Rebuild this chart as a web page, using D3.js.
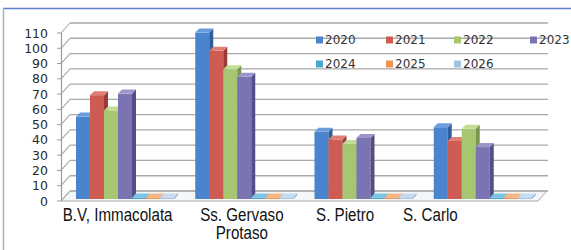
<!DOCTYPE html>
<html>
<head>
<meta charset="utf-8">
<script src="https://cdn.jsdelivr.net/npm/d3@7"></script>
<style>
  html, body { margin: 0; padding: 0; background: #fff; }
  svg { display: block; }
</style>
</head>
<body>
<svg id="chart" width="571" height="250"></svg>
<script>
// data
const categories = ['B.V, Immacolata', 'Ss. Gervaso Protaso', 'S. Pietro', 'S. Carlo'];
const years = ['2020', '2021', '2022', '2023', '2024', '2025', '2026'];
const v2020 = [54, 109, 44, 47];
const v2021 = [68, 97, 39, 38];
const v2022 = [58, 85, 36, 46];
const v2023 = [69, 80, 40, 34];
const v2024 = [0, 0, 0, 0];
const v2025 = [0, 0, 0, 0];
const v2026 = [0, 0, 0, 0];
const yTickValues = [0, 10, 20, 30, 40, 50, 60, 70, 80, 90, 100, 110];

const seriesValues = [v2020, v2021, v2022, v2023, v2024, v2025, v2026];

// styles
const fronts = ['#4a84cc', '#cf5c52', '#a6c672', '#7b74b3', '#4aa8d0', '#ef9550', '#a5c2e6'];
const sides  = ['#2f5e9c', '#9a3b35', '#7a9550', '#544e86', '#2f7f9f', '#b86a30', '#7d9cc0'];
const tops   = ['#6a9de0', '#e07f76', '#c3dc96', '#9b95cc', '#7cc4e2', '#f6b585', '#c6dbf2'];

// layout
const wallDx = 9, wallDy = -10;   // back wall depth
const barDx = 4, barDy = -4;      // bar depth
const barLift = 2;
const labelShift = [-3, 2, -14, -48];
const legendCols = [316, 386, 454, 530];
const legendRows = [40, 64];

const svg = d3.select('#chart');

// frame
svg.append('line').attr('x1', 3).attr('x2', 571).attr('y1', 8.5).attr('y2', 8.5)
    .attr('stroke', '#5b80c8').attr('stroke-width', 1.5);
svg.append('line').attr('x1', 3.5).attr('x2', 3.5).attr('y1', 8).attr('y2', 250)
    .attr('stroke', '#9fb3cc').attr('stroke-width', 1.5);

const y = d3.scaleLinear().domain([0, 110]).range([201, 33]);
const x = d3.scaleBand().domain(categories).range([61, 538]).padding(0);
const xs = d3.scaleBand().domain(years).range([15, 15 + 98]).padding(0);

// floor
const floorPts = [[61, y(0)], [538, y(0)], [538 + wallDx, y(0) + wallDy], [61 + wallDx, y(0) + wallDy]];
svg.append('polygon').attr('points', floorPts.map(p => p.join(',')).join(' '))
    .attr('fill', '#f4f6f8').attr('stroke', '#a8a8a8').attr('stroke-width', 1);

// gridlines on back wall + slanted connectors + ticks
const grid = svg.append('g');
yTickValues.forEach(v => {
    const yy = y(v);
    grid.append('line').attr('x1', 61 + wallDx).attr('x2', 548).attr('y1', yy + wallDy).attr('y2', yy + wallDy)
        .attr('stroke', '#a9a9a9').attr('stroke-width', 1.3);
    grid.append('line').attr('x1', 61).attr('x2', 61 + wallDx).attr('y1', yy).attr('y2', yy + wallDy)
        .attr('stroke', '#a9a9a9').attr('stroke-width', 1.1);
    grid.append('line').attr('x1', 57).attr('x2', 61).attr('y1', yy).attr('y2', yy)
        .attr('stroke', '#999').attr('stroke-width', 1);
});
svg.append('line').attr('x1', 61.5).attr('x2', 61.5).attr('y1', y(110)).attr('y2', y(0))
    .attr('stroke', '#999').attr('stroke-width', 1.2);

// y tick labels
svg.append('g').selectAll('text').data(yTickValues).join('text')
    .attr('x', 48).attr('y', d => y(d))
    .attr('dy', '0.36em')
    .attr('text-anchor', 'end')
    .attr('font-family', 'DejaVu Sans')
    .attr('font-size', 12.5)
    .attr('fill', '#2a2a2a')
    .text(d => d);

// bars
const bars = svg.append('g');
categories.forEach((cat, ci) => {
    years.forEach((yr, si) => {
        const v = seriesValues[si][ci];
        const x0 = x(cat) + xs(yr);
        const w = xs.bandwidth();
        const base = y(0) - barLift;
        let top = y(v) - barLift;
        if (base - top < 1.5) top = base - 1.5;
        const g = bars.append('g');
        g.append('rect').attr('x', x0).attr('y', top).attr('width', w).attr('height', base - top)
            .attr('fill', fronts[si]);
        g.append('polygon').attr('points', [
            [x0 + w, top], [x0 + w + barDx, top + barDy], [x0 + w + barDx, base + barDy], [x0 + w, base]
        ].map(p => p.join(',')).join(' ')).attr('fill', sides[si]);
        g.append('polygon').attr('points', [
            [x0, top], [x0 + barDx, top + barDy], [x0 + w + barDx, top + barDy], [x0 + w, top]
        ].map(p => p.join(',')).join(' ')).attr('fill', tops[si]);
    });
});

// category labels
const labelLines = categories.map(c => c === 'Ss. Gervaso Protaso' ? ['Ss. Gervaso', 'Protaso'] : [c]);
const labels = svg.append('g');
categories.forEach((cat, ci) => {
    const cx = x(cat) + x.bandwidth() / 2 + labelShift[ci];
    labelLines[ci].forEach((line, li) => {
        labels.append('text')
            .attr('transform', 'translate(' + cx + ',' + (221 + li * 18) + ') scale(0.82,1)')
            .attr('text-anchor', 'middle')
            .attr('font-family', 'Liberation Sans, Arial, sans-serif')
            .attr('font-size', 18.5)
            .attr('fill', '#111')
            .text(line);
    });
});

// legend
const legend = svg.append('g');
years.forEach((yr, i) => {
    const lx = legendCols[i % 4];
    const ly = legendRows[Math.floor(i / 4)];
    legend.append('rect').attr('x', lx).attr('y', ly - 3.5).attr('width', 7).attr('height', 7)
        .attr('fill', fronts[i]);
    legend.append('text').attr('x', lx + 9).attr('y', ly).attr('dy', '0.36em')
        .attr('font-family', 'DejaVu Sans').attr('font-size', 12).attr('fill', '#333')
        .text(yr);
});
</script>
</body>
</html>
